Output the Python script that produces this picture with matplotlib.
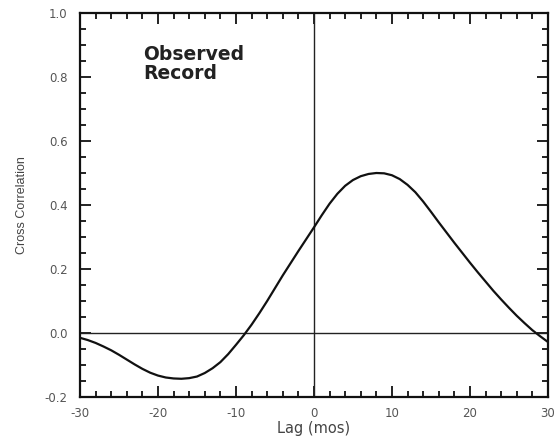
import matplotlib.pyplot as plt
from matplotlib.ticker import MultipleLocator

plt.rcParams['font.family'] = ['DejaVu Sans']
plt.rcParams['axes.unicode_minus'] = False

# cross correlation vs lag (1 month steps)
lag = list(range(-30, 31))
corr = [-0.015, -0.022, -0.031, -0.042, -0.054, -0.068, -0.083, -0.098, -0.112, -0.124,
        -0.133, -0.139, -0.142, -0.143, -0.141, -0.136, -0.125, -0.110, -0.091, -0.066,
        -0.037, -0.007, 0.026, 0.062, 0.100, 0.140, 0.180, 0.218, 0.256, 0.293,
        0.330, 0.368, 0.404, 0.435, 0.460, 0.478, 0.490, 0.497, 0.500, 0.499,
        0.493, 0.481, 0.463, 0.440, 0.411, 0.379, 0.346, 0.314, 0.282, 0.251,
        0.220, 0.190, 0.161, 0.132, 0.105, 0.079, 0.054, 0.031, 0.009, -0.010,
        -0.028]

fig = plt.figure(figsize=(5.54, 4.48), dpi=100)
ax = fig.add_axes([0.1444, 0.1138, 0.8446, 0.8572])

ax.axhline(0, color='#222222', lw=1.0)
ax.axvline(0, color='#222222', lw=1.0)
ax.plot(lag, corr, color='#111111', lw=1.6)

ax.set_xlim(-30, 30)
ax.set_ylim(-0.2, 1.0)
ax.xaxis.set_major_locator(MultipleLocator(10))
ax.xaxis.set_minor_locator(MultipleLocator(2))
ax.yaxis.set_minor_locator(MultipleLocator(0.05))
ax.set_yticks([-0.2, 0.0, 0.2, 0.4, 0.6, 0.8, 1.0])
ax.set_yticklabels(['-0.2', '0.0', '0.2', '0.4', '0.6', '0.8', '1.0'])
ax.tick_params(which='both', direction='in', top=True, right=True, width=1.3, color='#111111')
ax.tick_params(which='major', length=8, labelsize=8.5, labelcolor='#555555')
ax.tick_params(axis='y', which='major', pad=9)
ax.tick_params(axis='x', which='major', pad=7)
ax.tick_params(which='minor', length=4.5)
for s in ax.spines.values():
    s.set_linewidth(1.6)
    s.set_color('#111111')

ax.set_xlabel('Lag (mos)', fontsize=10.5, color='#444444', labelpad=1)
ax.set_ylabel('Cross Correlation', fontsize=9, color='#444444', labelpad=12,
              family=['Liberation Sans', 'DejaVu Sans'])
ax.text(-21.9, 0.84, 'Observed\nRecord', fontsize=13.5, fontweight='bold',
        color='#222222', va='center', linespacing=1.0)

fig.savefig('out.png', dpi=100)
